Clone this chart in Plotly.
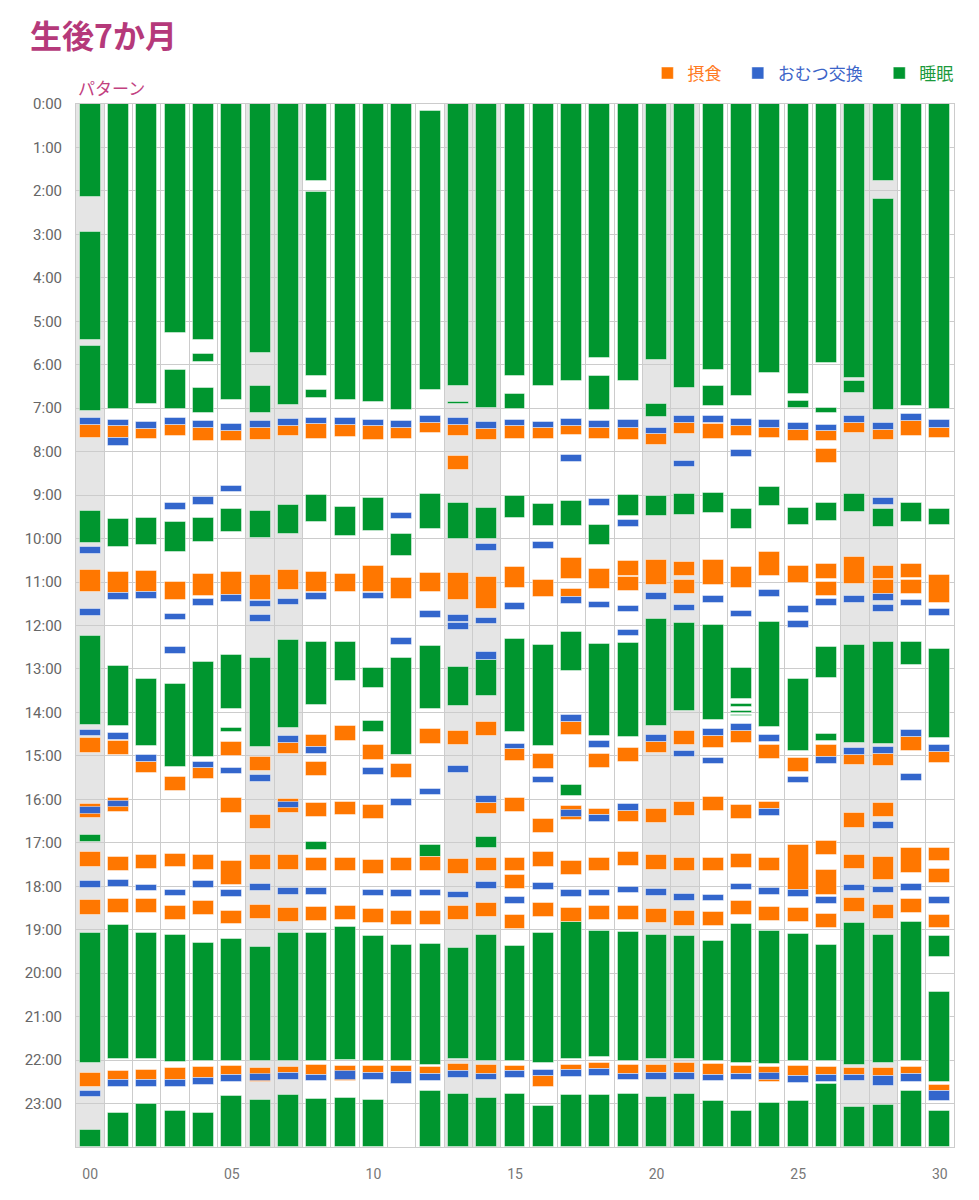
import plotly.graph_objects as go

days = list(range(31))
day_labels = {0: "00", 5: "05", 10: "10", 15: "15", 20: "20", 25: "25", 30: "30"}
hour_labels = [f"{h}:00" for h in range(24)]
weekends = [0, 6, 7, 13, 14, 20, 21, 27, 28]

# (day, start hour, end hour)
sleep = [
    (0, 0, 2.15), (0, 2.95, 5.42), (0, 5.57, 7.06), (0, 9.36, 10.10), (0, 12.25, 14.29), (0, 16.82, 16.99), (0, 19.08, 22.07), (0, 23.6, 24),
    (1, 0, 7.02), (1, 9.56, 10.2), (1, 12.94, 14.32), (1, 18.9, 21.98), (1, 23.21, 24),
    (2, 0, 6.91), (2, 9.52, 10.15), (2, 13.24, 14.78), (2, 19.07, 21.98), (2, 23.02, 24),
    (3, 0, 5.27), (3, 6.12, 7.01), (3, 9.62, 10.32), (3, 13.35, 15.26), (3, 19.12, 22.04), (3, 23.17, 24),
    (4, 0, 5.42), (4, 5.76, 5.94), (4, 6.54, 7.12), (4, 9.52, 10.08), (4, 12.85, 15.02), (4, 19.3, 22.02), (4, 23.22, 24),
    (5, 0, 6.82), (5, 9.33, 9.85), (5, 12.69, 13.92), (5, 14.35, 14.45), (5, 19.22, 22.02), (5, 22.82, 24),
    (6, 0, 5.72), (6, 6.49, 7.12), (6, 9.36, 9.98), (6, 12.75, 14.79), (6, 19.4, 22.02), (6, 22.92, 24),
    (7, 0, 6.93), (7, 9.23, 9.9), (7, 12.34, 14.35), (7, 19.08, 22.02), (7, 22.81, 24),
    (8, 0, 1.78), (8, 2.02, 6.27), (8, 6.59, 6.77), (8, 9.0, 9.61), (8, 12.38, 13.82), (8, 16.98, 17.17), (8, 19.08, 22.02), (8, 22.89, 24),
    (9, 0, 6.82), (9, 9.28, 9.93), (9, 12.38, 13.27), (9, 18.94, 22.0), (9, 22.88, 24),
    (10, 0, 6.86), (10, 9.06, 9.82), (10, 12.98, 13.43), (10, 14.19, 14.46), (10, 19.15, 22.03), (10, 22.91, 24),
    (11, 0, 7.05), (11, 9.9, 10.41), (11, 12.74, 14.97), (11, 19.35, 22.02),
    (12, 0.17, 6.57), (12, 8.98, 9.78), (12, 12.48, 13.93), (12, 17.06, 17.32), (12, 19.32, 22.11), (12, 22.72, 24),
    (13, 0, 6.49), (13, 6.85, 6.91), (13, 9.19, 10.01), (13, 12.95, 13.85), (13, 19.43, 21.98), (13, 22.78, 24),
    (14, 0, 7.0), (14, 9.29, 10.01), (14, 12.79, 13.62), (14, 16.87, 17.11), (14, 19.12, 22.03), (14, 22.87, 24),
    (15, 0, 6.25), (15, 6.68, 7.02), (15, 9.02, 9.52), (15, 12.31, 14.46), (15, 19.38, 22.02), (15, 22.78, 24),
    (16, 0, 6.49), (16, 9.21, 9.7), (16, 12.46, 14.77), (16, 19.08, 22.07), (16, 23.06, 24),
    (17, 0, 6.38), (17, 9.14, 9.7), (17, 12.16, 13.04), (17, 15.67, 15.92), (17, 18.83, 21.98), (17, 22.81, 24),
    (18, 0, 5.85), (18, 6.27, 7.04), (18, 9.68, 10.15), (18, 12.43, 14.55), (18, 19.02, 21.92), (18, 22.8, 24),
    (19, 0, 6.38), (19, 9.0, 9.47), (19, 12.4, 14.56), (19, 19.05, 22.02), (19, 22.79, 24),
    (20, 0, 5.88), (20, 6.91, 7.21), (20, 9.02, 9.48), (20, 11.85, 14.32), (20, 19.12, 21.98), (20, 22.86, 24),
    (21, 0, 6.53), (21, 8.98, 9.45), (21, 11.95, 13.96), (21, 19.15, 21.98), (21, 22.78, 24),
    (22, 0, 6.11), (22, 6.48, 6.94), (22, 8.96, 9.41), (22, 11.98, 14.18), (22, 19.25, 22.02), (22, 22.93, 24),
    (23, 0, 6.73), (23, 9.32, 9.78), (23, 12.97, 13.69), (23, 13.81, 13.87), (23, 13.97, 14.01), (23, 14.05, 14.09), (23, 18.87, 22.06), (23, 23.17, 24),
    (24, 0, 6.18), (24, 8.81, 9.24), (24, 11.92, 14.33), (24, 19.03, 22.08), (24, 22.99, 24),
    (25, 0, 6.68), (25, 6.83, 7.0), (25, 9.3, 9.68), (25, 13.22, 14.89), (25, 19.1, 22.02), (25, 22.95, 24),
    (26, 0, 5.97), (26, 7.0, 7.11), (26, 9.19, 9.59), (26, 12.5, 13.21), (26, 14.5, 14.65), (26, 19.35, 22.02), (26, 22.54, 24),
    (27, 0, 6.31), (27, 6.38, 6.64), (27, 8.98, 9.39), (27, 12.44, 14.7), (27, 18.85, 22.11), (27, 23.09, 24),
    (28, 0, 1.78), (28, 2.18, 7.04), (28, 9.33, 9.73), (28, 12.37, 14.72), (28, 19.13, 22.06), (28, 23.04, 24),
    (29, 0, 6.95), (29, 9.19, 9.61), (29, 12.38, 12.92), (29, 18.83, 22.03), (29, 22.72, 24),
    (30, 0, 7.02), (30, 9.33, 9.68), (30, 12.53, 14.6), (30, 19.15, 19.62), (30, 20.43, 22.5), (30, 23.18, 24),
]

feed = [
    (0, 7.38, 7.68), (0, 10.73, 11.22), (0, 14.6, 14.93), (0, 16.1, 16.42), (0, 17.22, 17.55), (0, 18.32, 18.65), (0, 22.29, 22.61),
    (1, 7.42, 7.69), (1, 10.78, 11.25), (1, 14.65, 14.98), (1, 15.97, 16.28), (1, 17.32, 17.65), (1, 18.29, 18.62), (1, 22.26, 22.45),
    (2, 7.48, 7.71), (2, 10.75, 11.23), (2, 15.13, 15.39), (2, 17.28, 17.61), (2, 18.3, 18.62), (2, 22.23, 22.46),
    (3, 7.38, 7.65), (3, 11.0, 11.42), (3, 15.48, 15.8), (3, 17.25, 17.56), (3, 18.46, 18.78), (3, 22.18, 22.45),
    (4, 7.46, 7.76), (4, 10.81, 11.31), (4, 15.28, 15.53), (4, 17.29, 17.62), (4, 18.35, 18.66), (4, 22.15, 22.42),
    (5, 7.52, 7.76), (5, 10.78, 11.29), (5, 14.68, 15.0), (5, 15.98, 16.31), (5, 17.42, 17.98), (5, 18.57, 18.88), (5, 22.14, 22.34),
    (6, 7.45, 7.74), (6, 10.83, 11.41), (6, 15.02, 15.35), (6, 16.37, 16.69), (6, 17.28, 17.62), (6, 18.43, 18.75), (6, 22.18, 22.5),
    (7, 7.4, 7.65), (7, 10.73, 11.19), (7, 14.7, 14.95), (7, 15.99, 16.31), (7, 17.29, 17.62), (7, 18.49, 18.82), (7, 22.15, 22.29),
    (8, 7.37, 7.71), (8, 10.78, 11.22), (8, 14.52, 14.79), (8, 15.15, 15.46), (8, 16.08, 16.4), (8, 17.35, 17.66), (8, 18.48, 18.8), (8, 22.12, 22.34),
    (9, 7.38, 7.67), (9, 10.81, 11.24), (9, 14.32, 14.65), (9, 16.06, 16.37), (9, 17.35, 17.65), (9, 18.45, 18.77), (9, 22.14, 22.47),
    (10, 7.42, 7.72), (10, 10.63, 11.22), (10, 14.75, 15.09), (10, 16.14, 16.46), (10, 17.39, 17.72), (10, 18.53, 18.85), (10, 22.14, 22.29),
    (11, 7.45, 7.71), (11, 10.9, 11.39), (11, 15.18, 15.5), (11, 17.35, 17.66), (11, 18.57, 18.89), (11, 22.14, 22.28),
    (12, 7.35, 7.57), (12, 10.79, 11.23), (12, 14.39, 14.72), (12, 17.32, 17.65), (12, 18.57, 18.89), (12, 22.17, 22.32),
    (13, 7.39, 7.63), (13, 8.09, 8.42), (13, 10.79, 11.41), (13, 14.42, 14.75), (13, 17.38, 17.72), (13, 18.46, 18.78), (13, 22.08, 22.25),
    (14, 7.48, 7.72), (14, 10.89, 11.62), (14, 14.22, 14.55), (14, 16.09, 16.33), (14, 17.35, 17.66), (14, 18.38, 18.71), (14, 22.11, 22.31),
    (15, 7.42, 7.71), (15, 10.66, 11.14), (15, 14.85, 15.12), (15, 15.97, 16.29), (15, 17.35, 17.65), (15, 17.75, 18.07), (15, 18.66, 18.99), (15, 22.13, 22.25),
    (16, 7.46, 7.71), (16, 10.95, 11.35), (16, 14.95, 15.3), (16, 16.45, 16.77), (16, 17.22, 17.55), (16, 18.38, 18.71), (16, 22.37, 22.62),
    (17, 7.4, 7.62), (17, 10.45, 10.93), (17, 11.17, 11.35), (17, 14.22, 14.53), (17, 16.15, 16.48), (17, 17.42, 17.73), (17, 18.49, 18.83), (17, 22.11, 22.23),
    (18, 7.45, 7.71), (18, 10.69, 11.15), (18, 14.96, 15.28), (18, 16.22, 16.37), (18, 17.35, 17.66), (18, 18.46, 18.78), (18, 22.06, 22.2),
    (19, 7.45, 7.72), (19, 10.52, 10.85), (19, 10.88, 11.21), (19, 14.81, 15.13), (19, 16.26, 16.53), (19, 17.21, 17.53), (19, 18.45, 18.77), (19, 22.11, 22.31),
    (20, 7.59, 7.85), (20, 10.5, 11.07), (20, 14.68, 14.93), (20, 16.22, 16.55), (20, 17.29, 17.62), (20, 18.52, 18.84), (20, 22.11, 22.29),
    (21, 7.35, 7.59), (21, 10.53, 10.85), (21, 10.96, 11.28), (21, 14.42, 14.75), (21, 16.06, 16.38), (21, 17.35, 17.66), (21, 18.58, 18.91), (21, 22.07, 22.3),
    (22, 7.37, 7.71), (22, 10.5, 11.07), (22, 14.55, 14.82), (22, 15.95, 16.27), (22, 17.35, 17.65), (22, 18.6, 18.92), (22, 22.09, 22.34),
    (23, 7.41, 7.64), (23, 10.66, 11.14), (23, 14.42, 14.7), (23, 16.14, 16.46), (23, 17.25, 17.58), (23, 18.35, 18.66), (23, 22.14, 22.31),
    (24, 7.45, 7.68), (24, 10.3, 10.85), (24, 14.75, 15.08), (24, 16.06, 16.23), (24, 17.34, 17.66), (24, 18.48, 18.8), (24, 22.17, 22.5),
    (25, 7.51, 7.76), (25, 10.62, 11.02), (25, 15.04, 15.36), (25, 17.05, 18.09), (25, 18.49, 18.82), (25, 22.14, 22.37),
    (26, 7.52, 7.76), (26, 7.94, 8.26), (26, 10.59, 10.92), (26, 11.0, 11.32), (26, 14.74, 15.02), (26, 16.95, 17.28), (26, 17.63, 18.21), (26, 18.63, 18.95), (26, 22.15, 22.35),
    (27, 7.35, 7.57), (27, 10.43, 11.05), (27, 14.98, 15.22), (27, 16.32, 16.65), (27, 17.27, 17.6), (27, 18.28, 18.6), (27, 22.18, 22.34),
    (28, 7.49, 7.72), (28, 10.62, 10.93), (28, 10.96, 11.28), (28, 14.95, 15.23), (28, 16.09, 16.41), (28, 17.33, 17.85), (28, 18.43, 18.75), (28, 22.18, 22.37),
    (29, 7.3, 7.65), (29, 10.58, 10.9), (29, 10.95, 11.28), (29, 14.56, 14.88), (29, 17.13, 17.69), (29, 18.29, 18.62), (29, 22.17, 22.32),
    (30, 7.45, 7.69), (30, 10.83, 11.48), (30, 14.91, 15.16), (30, 17.11, 17.43), (30, 17.61, 17.93), (30, 18.65, 18.97), (30, 22.58, 22.71),
]

diaper = [
    (0, 7.22, 7.38), (0, 10.19, 10.35), (0, 11.63, 11.78), (0, 14.4, 14.55), (0, 16.18, 16.33), (0, 17.88, 18.03), (0, 22.71, 22.86),
    (1, 7.26, 7.42), (1, 7.69, 7.86), (1, 11.25, 11.42), (1, 14.48, 14.63), (1, 16.03, 16.17), (1, 17.86, 18.02), (1, 22.45, 22.61),
    (2, 7.32, 7.48), (2, 11.23, 11.38), (2, 14.98, 15.13), (2, 17.96, 18.11), (2, 22.46, 22.63),
    (3, 7.22, 7.38), (3, 9.19, 9.35), (3, 11.73, 11.88), (3, 12.5, 12.66), (3, 18.08, 18.23), (3, 22.45, 22.61),
    (4, 7.3, 7.46), (4, 9.05, 9.22), (4, 11.4, 11.55), (4, 15.13, 15.28), (4, 17.88, 18.03), (4, 22.42, 22.57),
    (5, 7.36, 7.52), (5, 8.78, 8.93), (5, 11.29, 11.45), (5, 15.27, 15.42), (5, 18.09, 18.25), (5, 22.35, 22.51),
    (6, 7.29, 7.45), (6, 11.44, 11.58), (6, 11.76, 11.92), (6, 15.45, 15.61), (6, 17.95, 18.1), (6, 22.32, 22.48),
    (7, 7.24, 7.4), (7, 11.38, 11.53), (7, 14.54, 14.7), (7, 16.05, 16.19), (7, 18.05, 18.2), (7, 22.29, 22.45),
    (8, 7.22, 7.37), (8, 11.25, 11.41), (8, 14.79, 14.96), (8, 18.05, 18.2), (8, 22.34, 22.49),
    (9, 7.22, 7.38), (9, 22.26, 22.45),
    (10, 7.26, 7.42), (10, 11.25, 11.4), (10, 15.28, 15.43), (10, 18.08, 18.23), (10, 22.29, 22.46),
    (11, 7.3, 7.45), (11, 9.41, 9.56), (11, 12.28, 12.44), (11, 16.0, 16.15), (11, 18.09, 18.25), (11, 22.28, 22.54),
    (12, 7.19, 7.35), (12, 11.67, 11.82), (12, 15.76, 15.91), (12, 18.08, 18.23), (12, 22.32, 22.49),
    (13, 7.23, 7.39), (13, 11.76, 11.92), (13, 11.95, 12.1), (13, 15.24, 15.39), (13, 18.13, 18.28), (13, 22.25, 22.42),
    (14, 7.32, 7.48), (14, 10.13, 10.28), (14, 11.82, 11.97), (14, 12.62, 12.79), (14, 15.92, 16.09), (14, 17.91, 18.07), (14, 22.31, 22.46),
    (15, 7.26, 7.42), (15, 11.48, 11.64), (15, 14.72, 14.85), (15, 18.25, 18.4), (15, 22.25, 22.42),
    (16, 7.31, 7.46), (16, 10.08, 10.24), (16, 15.48, 15.63), (16, 17.93, 18.08), (16, 22.22, 22.37),
    (17, 7.25, 7.4), (17, 8.08, 8.23), (17, 11.35, 11.5), (17, 14.06, 14.22), (17, 16.25, 16.4), (17, 18.09, 18.25), (17, 22.23, 22.4),
    (18, 7.3, 7.45), (18, 9.09, 9.25), (18, 11.45, 11.6), (18, 14.65, 14.81), (18, 16.37, 16.52), (18, 18.08, 18.23), (18, 22.2, 22.37),
    (19, 7.28, 7.45), (19, 9.58, 9.73), (19, 11.55, 11.7), (19, 12.1, 12.25), (19, 16.11, 16.26), (19, 18.02, 18.16), (19, 22.31, 22.46),
    (20, 7.45, 7.59), (20, 11.25, 11.41), (20, 14.53, 14.68), (20, 18.06, 18.22), (20, 22.29, 22.45),
    (21, 7.18, 7.35), (21, 8.21, 8.36), (21, 11.52, 11.67), (21, 14.88, 15.02), (21, 18.18, 18.33), (21, 22.3, 22.46),
    (22, 7.18, 7.35), (22, 11.33, 11.48), (22, 14.39, 14.55), (22, 15.04, 15.19), (22, 18.2, 18.35), (22, 22.34, 22.49),
    (23, 7.25, 7.41), (23, 7.96, 8.12), (23, 11.66, 11.81), (23, 14.26, 14.42), (23, 17.94, 18.09), (23, 22.31, 22.46),
    (24, 7.28, 7.45), (24, 11.19, 11.35), (24, 14.53, 14.68), (24, 16.23, 16.38), (24, 18.05, 18.2), (24, 22.29, 22.45),
    (25, 7.35, 7.51), (25, 11.55, 11.72), (25, 11.9, 12.05), (25, 15.48, 15.63), (25, 18.09, 18.25), (25, 22.37, 22.52),
    (26, 7.38, 7.52), (26, 11.38, 11.54), (26, 15.02, 15.18), (26, 18.25, 18.4), (26, 22.35, 22.5),
    (27, 7.18, 7.35), (27, 11.33, 11.48), (27, 14.82, 14.98), (27, 17.96, 18.12), (27, 22.34, 22.49),
    (28, 7.34, 7.49), (28, 9.06, 9.22), (28, 11.28, 11.44), (28, 11.53, 11.68), (28, 14.79, 14.95), (28, 16.53, 16.68), (28, 18.02, 18.16), (28, 22.37, 22.59),
    (29, 7.14, 7.3), (29, 11.41, 11.55), (29, 14.41, 14.56), (29, 15.42, 15.58), (29, 17.95, 18.11), (29, 22.32, 22.51),
    (30, 7.28, 7.45), (30, 11.62, 11.78), (30, 14.75, 14.91), (30, 18.25, 18.4), (30, 22.71, 22.95),
]

series = [
    ("睡眠", sleep, "#00962f", "#1b9a3c", 3, ""),
    ("摂食", feed, "#ff7700", "#ff7b22", 1, "&nbsp;&nbsp;&nbsp;"),
    ("おむつ交換", diaper, "#3366cc", "#3c64c8", 2, "&nbsp;&nbsp;&nbsp;"),
]

FONT = "Roboto, 'Noto Sans CJK JP', sans-serif"
JP = "'Noto Sans CJK JP', sans-serif"
fig = go.Figure()
for name, data, color, tcolor, rank, pad in series:
    fig.add_trace(go.Bar(
        x=[d for d, s, e in data],
        base=[s for d, s, e in data],
        y=[e - s for d, s, e in data],
        name=f'<span style="color:{tcolor}">{name}</span>{pad}',
        marker=dict(color=color, line=dict(color="rgba(255,255,255,0.45)", width=1)),
        width=0.74,
        legendrank=rank,
    ))

shapes = [dict(type="rect", xref="x", yref="paper", x0=d - 0.5, x1=d + 0.5, y0=0, y1=1,
               fillcolor="#e5e5e5", line=dict(width=0), layer="below") for d in weekends]

fig.update_layout(
    width=979, height=1200,
    margin=dict(l=76, r=25, t=104, b=53),
    barmode="overlay",
    plot_bgcolor="white", paper_bgcolor="white",
    font=dict(family=FONT, color="#666666"),
    shapes=shapes,
    title=dict(text="<b>生後7か月</b>", x=30 / 979, xref="container", xanchor="left",
               y=1 - 37 / 1200, yref="container", yanchor="middle",
               font=dict(size=32, color="#b5397a", family=JP)),
    legend=dict(orientation="h", x=1.005, xanchor="right", y=1.012, yanchor="bottom",
                font=dict(size=17, family=JP), traceorder="normal",
                itemclick=False, bgcolor="rgba(0,0,0,0)"),
    annotations=[dict(text="パターン", xref="paper", yref="paper", x=0, y=1 + 16 / 1043,
                      xanchor="left", yanchor="middle", showarrow=False,
                      font=dict(size=17, color="#c2417f", family=JP))],
    bargap=0,
    showlegend=True,
)

fig.update_xaxes(
    range=[-0.5, 30.5], tickvals=list(day_labels.keys()), ticktext=list(day_labels.values()),
    showgrid=False, zeroline=False, ticks="", tickfont=dict(size=14, color="#777777"),
    ticklabelstandoff=14,
    minor=dict(tickvals=[d - 0.5 for d in days] + [30.5], showgrid=True, gridcolor="#cccccc", gridwidth=1),
    showline=True, linecolor="#cccccc", mirror=True,
)
fig.update_yaxes(
    range=[24, 0], tickvals=list(range(24)), ticktext=hour_labels,
    showgrid=True, gridcolor="#cccccc", zeroline=False, ticks="",
    tickfont=dict(size=15, color="#666666"), ticklabelstandoff=10,
    showline=True, linecolor="#cccccc", mirror=True,
)

fig.write_html("out.html", config={"displayModeBar": False},
               post_script="document.body.style.margin='0';")
